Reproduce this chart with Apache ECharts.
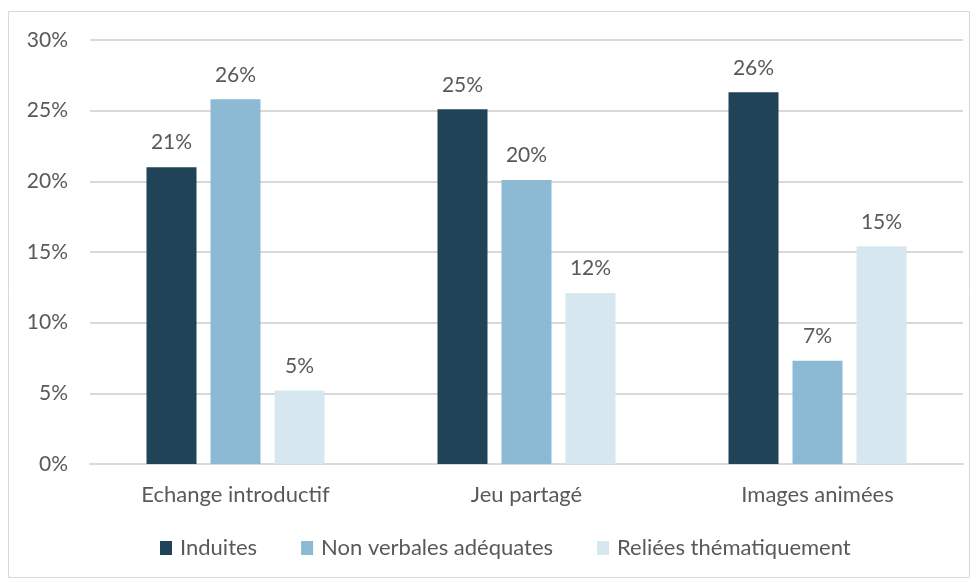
<!DOCTYPE html>
<html><head><meta charset="utf-8">
<script src="https://cdn.jsdelivr.net/npm/echarts@6/dist/echarts.min.js"></script>
<style>html,body{margin:0;padding:0;background:#fff}#c{width:976px;height:583px}</style>
</head><body><div id="c"></div>
<script>
const categories = ['Echange introductif', 'Jeu partagé', 'Images animées'];
const seriesNames = ['Induites', 'Non verbales adéquates', 'Reliées thématiquement'];
const induites = [21.0, 25.1, 26.3];
const nonVerbales = [25.8, 20.1, 7.3];
const reliees = [5.2, 12.1, 15.4];
const yTicks = [0, 5, 10, 15, 20, 25, 30];
const colors = ['#214358', '#8CB9D3', '#D6E7F0'];

const FONT = 'Lato, "Open Sans", sans-serif';
const FS = 21;
const chart = echarts.init(document.getElementById('c'), null, {renderer: 'canvas'});
const mk = (name, data, color) => ({
  name, type: 'bar', data, barWidth: 50, barGap: '28%',
  itemStyle: {color},
  label: {show: true, position: 'top', distance: 14, color: '#595959', fontSize: FS, fontFamily: FONT,
    formatter: p => Math.round(p.value) + '%'}
});
chart.setOption({
  animation: false,
  color: colors,
  graphic: [{type: 'rect', shape: {x: 8.5, y: 11.5, width: 961, height: 566},
    style: {fill: 'none', stroke: '#D9D9D9', lineWidth: 1}, silent: true}],
  grid: {left: 90, right: 13, top: 40, bottom: 119, containLabel: false},
  legend: {bottom: 19, left: 155, itemWidth: 12, itemHeight: 14, itemGap: 44, icon: 'rect',
    textStyle: {color: '#595959', fontSize: 22, fontFamily: FONT, padding: [0, 0, 0, 3]}, data: seriesNames},
  xAxis: {type: 'category', data: categories,
    axisLine: {show: true, lineStyle: {color: '#D9D9D9', width: 2}},
    axisTick: {show: false},
    axisLabel: {color: '#595959', fontSize: 22, fontFamily: FONT, margin: 20}},
  yAxis: {type: 'value', min: yTicks[0], max: yTicks[yTicks.length - 1], interval: 5,
    axisLine: {show: false}, axisTick: {show: false},
    splitLine: {lineStyle: {color: '#D9D9D9', width: 2}},
    axisLabel: {color: '#595959', fontSize: FS, fontFamily: FONT, margin: 22, formatter: v => v + '%'}},
  series: [mk(seriesNames[0], induites, colors[0]), mk(seriesNames[1], nonVerbales, colors[1]), mk(seriesNames[2], reliees, colors[2])]
});
</script></body></html>
